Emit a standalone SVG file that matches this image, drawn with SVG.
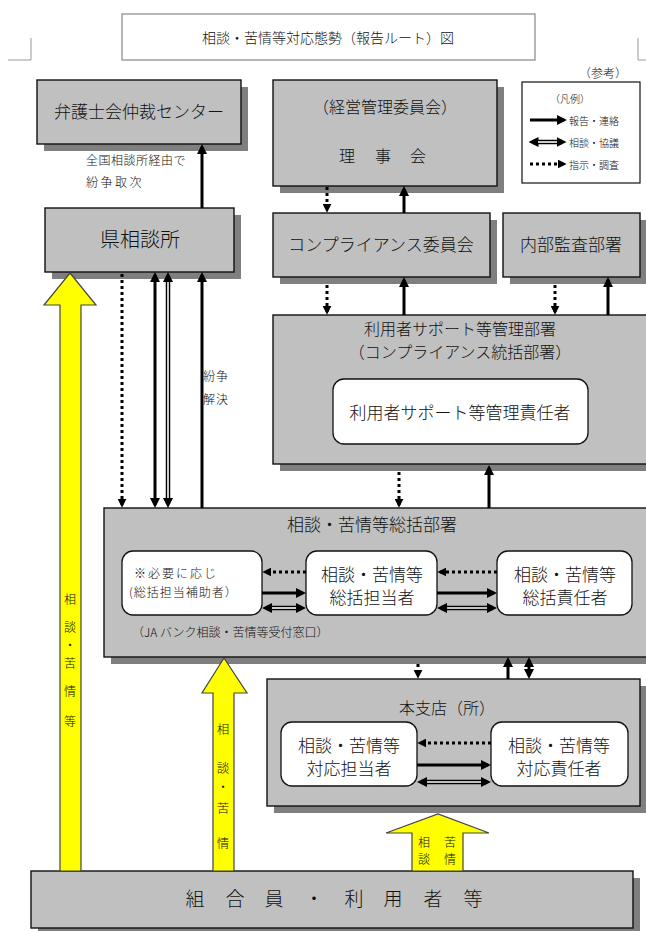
<svg xmlns="http://www.w3.org/2000/svg" width="646" height="931" viewBox="0 0 646 931">
<style>
text{font-family:"Noto Sans CJK JP","Noto Sans",sans-serif;font-weight:300;fill:#111;dominant-baseline:central}
.c{text-anchor:middle}
.box{fill:#c0c0c0;stroke:#111;stroke-width:1.4}
.sh{fill:#7f7f7f}
.in{fill:#fff;stroke:#111;stroke-width:1.3}
.s{fill:none;stroke:#000;stroke-width:3}
.d{fill:none;stroke:#000;stroke-width:3;stroke-dasharray:3 3}
.h{fill:none;stroke:#000;stroke-width:4.5}
.hw{fill:none;stroke:#fff;stroke-width:1.6}
.y{fill:#ffff00;stroke:#444;stroke-width:1.2}
</style>
<defs>
<marker id="a" viewBox="0 0 10 10" refX="7" refY="5" markerWidth="10" markerHeight="10" markerUnits="userSpaceOnUse" orient="auto-start-reverse"><path d="M0,0 L10,5 L0,10 z" fill="#000"/></marker>
<marker id="b" viewBox="0 0 10 10" refX="5.5" refY="5" markerWidth="10" markerHeight="10" markerUnits="userSpaceOnUse" orient="auto-start-reverse"><path d="M0,0 L10,5 L0,10 z" fill="#000"/></marker>
<marker id="c" viewBox="0 0 10 10" refX="7" refY="5" markerWidth="9" markerHeight="9" markerUnits="userSpaceOnUse" orient="auto-start-reverse"><path d="M0,0 L10,5 L0,10 z" fill="#000"/></marker>
</defs>

<g id="title">
<rect x="122" y="14" width="413" height="46" fill="#fff" stroke="#888" stroke-width="1.2"/>
<text class="c" x="328" y="37" font-size="14">相談・苦情等対応態勢（報告ルート）図</text>
<path d="M8,60 H31 V38 M646,60 H638 V38" fill="none" stroke="#999" stroke-width="1"/>
</g>

<g id="legend">
<text class="c" x="603" y="72" font-size="12">（参考）</text>
<rect x="522" y="82" width="118" height="101" fill="#fff" stroke="#111" stroke-width="1.2"/>
<text class="c" x="570" y="98" font-size="10">（凡例）</text>
<path class="s" d="M530,120 H564" marker-end="url(#a)"/>
<text x="569" y="120" font-size="10">報告・連絡</text>
<path class="h" d="M533,142 H562" marker-start="url(#b)" marker-end="url(#b)"/>
<path class="hw" d="M538,142 H557"/>
<text x="569" y="142" font-size="10">相談・協議</text>
<path class="d" d="M530,164 H564" marker-end="url(#c)"/>
<text x="569" y="164" font-size="10">指示・調査</text>
</g>

<g id="bengoshi">
<rect class="sh" x="44" y="87" width="204" height="64"/>
<rect class="box" x="37" y="80" width="204" height="64"/>
<text class="c" x="139" y="110" font-size="17">弁護士会仲裁センター</text>
</g>

<g id="ken">
<rect class="sh" x="52" y="215" width="189" height="64"/>
<rect class="box" x="45" y="208" width="189" height="64"/>
<text class="c" x="140" y="238" font-size="20">県相談所</text>
</g>

<g id="rijikai">
<rect class="sh" x="280" y="87" width="224" height="106"/>
<rect class="box" x="273" y="80" width="224" height="106"/>
<text class="c" x="385" y="106" font-size="16">（経営管理委員会）</text>
<text class="c" x="347 383 418" y="155" font-size="16">理事会</text>
</g>

<g id="compliance">
<rect class="sh" x="280" y="220" width="217" height="64"/>
<rect class="box" x="273" y="213" width="217" height="64"/>
<text class="c" x="381" y="243" font-size="17">コンプライアンス委員会</text>
</g>

<g id="naibu">
<rect class="sh" x="510" y="220" width="137" height="64"/>
<rect class="box" x="503" y="213" width="137" height="64"/>
<text class="c" x="571" y="243" font-size="17">内部監査部署</text>
</g>

<g id="riyousha">
<rect class="sh" x="280" y="322" width="380" height="149"/>
<rect class="box" x="273" y="315" width="380" height="149"/>
<text class="c" x="460" y="328" font-size="16">利用者サポート等管理部署</text>
<text class="c" x="460" y="351" font-size="16">（コンプライアンス統括部署）</text>
<rect class="in" x="333" y="379" width="255" height="65" rx="11"/>
<text class="c" x="460" y="411" font-size="17">利用者サポート等管理責任者</text>
</g>

<g id="soukatsu">
<rect class="sh" x="111" y="515" width="550" height="149"/>
<rect class="box" x="104" y="508" width="550" height="149"/>
<text class="c" x="372" y="523" font-size="17">相談・苦情等総括部署</text>
<text x="132" y="631" font-size="12">（JA バンク相談・苦情等受付窓口）</text>
</g>

<g id="hojo">
<rect class="in" x="122" y="551" width="140" height="64" rx="11"/>
<text x="134" y="572" font-size="12" letter-spacing="2">※必要に応じ</text>
<text x="129" y="591" font-size="12" letter-spacing="1">(総括担当補助者）</text>
</g>

<g id="tantou">
<rect class="in" x="306" y="551" width="131" height="64" rx="11"/>
<text class="c" x="372" y="573" font-size="17">相談・苦情等</text>
<text class="c" x="372" y="596" font-size="17">総括担当者</text>
</g>

<g id="sekinin">
<rect class="in" x="497" y="551" width="135" height="64" rx="11"/>
<text class="c" x="565" y="573" font-size="17">相談・苦情等</text>
<text class="c" x="565" y="596" font-size="17">総括責任者</text>
</g>

<g id="honshiten">
<rect class="sh" x="274" y="686" width="373" height="127"/>
<rect class="box" x="267" y="679" width="373" height="127"/>
<text class="c" x="447" y="707" font-size="16">本支店（所）</text>
</g>

<g id="taiou-tantou">
<rect class="in" x="281" y="722" width="136" height="64" rx="11"/>
<text class="c" x="349" y="744" font-size="17">相談・苦情等</text>
<text class="c" x="349" y="767" font-size="17">対応担当者</text>
</g>

<g id="taiou-sekinin">
<rect class="in" x="491" y="722" width="137" height="64" rx="11"/>
<text class="c" x="559" y="744" font-size="17">相談・苦情等</text>
<text class="c" x="559" y="767" font-size="17">対応責任者</text>
</g>

<g id="kumiai">
<rect class="sh" x="38" y="878" width="602" height="57"/>
<rect class="box" x="31" y="871" width="602" height="57"/>
<text class="c" x="195 235 274 314 354 393 433 473" y="897" font-size="19">組合員・利用者等</text>
</g>

<g id="connectors">
<path class="s" d="M202,208 V147" marker-end="url(#a)"/>
<text x="86" y="159" font-size="12" letter-spacing="0.5">全国相談所経由で</text>
<text x="86" y="181" font-size="12" letter-spacing="2.5">紛争取次</text>
<path class="d" d="M327,187 V210" marker-end="url(#c)"/>
<path class="s" d="M404,213 V189" marker-end="url(#a)"/>
<path class="d" d="M327,285 V312" marker-end="url(#c)"/>
<path class="s" d="M404,315 V280" marker-end="url(#a)"/>
<path class="d" d="M555,285 V312" marker-end="url(#c)"/>
<path class="s" d="M608,315 V280" marker-end="url(#a)"/>
<path class="d" d="M399,472 V505" marker-end="url(#c)"/>
<path class="s" d="M489,508 V468" marker-end="url(#a)"/>
<path class="d" d="M122,274 V505" marker-end="url(#c)"/>
<path class="s" d="M155,275 V505" marker-start="url(#a)" marker-end="url(#a)"/>
<path class="h" d="M168,276.5 V503.5" marker-start="url(#b)" marker-end="url(#b)"/>
<path class="hw" d="M168,282 V498"/>
<path class="s" d="M202,508 V275" marker-end="url(#a)"/>
<text x="203" y="375" font-size="12" letter-spacing="1">紛争</text>
<text x="203" y="398" font-size="12" letter-spacing="1">解決</text>
<path class="d" d="M306,572 H265" marker-end="url(#c)"/>
<path class="s" d="M262,593 H303" marker-end="url(#a)"/>
<path class="h" d="M266.5,608 H301.5" marker-start="url(#b)" marker-end="url(#b)"/>
<path class="hw" d="M272,608 H296"/>
<path class="d" d="M497,572 H440" marker-end="url(#c)"/>
<path class="s" d="M437,593 H494" marker-end="url(#a)"/>
<path class="h" d="M441.5,608 H492.5" marker-start="url(#b)" marker-end="url(#b)"/>
<path class="hw" d="M447,608 H487"/>
<path class="d" d="M418,664 V676" marker-end="url(#c)"/>
<path class="s" d="M508,679 V660" marker-end="url(#a)"/>
<path class="s" d="M529,660 V676" marker-start="url(#a)" marker-end="url(#a)"/>
<path class="d" d="M491,743 H420" marker-end="url(#c)"/>
<path class="s" d="M417,765 H488" marker-end="url(#a)"/>
<path class="h" d="M421.5,782 H486.5" marker-start="url(#b)" marker-end="url(#b)"/>
<path class="hw" d="M427,782 H481"/>
</g>

<g id="yellow-arrows">
<path class="y" d="M60,871 V305 H44 L70,273 L96,305 H81 V871 Z"/>
<text class="c" x="70" y="598" font-size="12">相</text>
<text class="c" x="70" y="626" font-size="12">談</text>
<text class="c" x="70" y="644" font-size="12">・</text>
<text class="c" x="70" y="662" font-size="12">苦</text>
<text class="c" x="70" y="690" font-size="12">情</text>
<text class="c" x="70" y="720" font-size="12">等</text>
<path class="y" d="M213,871 V693 H202 L224,658 L247,693 H234 V871 Z"/>
<text class="c" x="223" y="728" font-size="12.5">相</text>
<text class="c" x="223" y="767" font-size="12.5">談</text>
<text class="c" x="223" y="786" font-size="12.5">・</text>
<text class="c" x="223" y="807" font-size="12.5">苦</text>
<text class="c" x="223" y="842" font-size="12.5">情</text>
<path class="y" d="M412,871 V833 H386 L438,814 L489,833 H463 V871 Z"/>
<text class="c" x="424" y="841" font-size="12">相</text>
<text class="c" x="450" y="841" font-size="12">苦</text>
<text class="c" x="424" y="858" font-size="12">談</text>
<text class="c" x="450" y="858" font-size="12">情</text>
</g>
</svg>
